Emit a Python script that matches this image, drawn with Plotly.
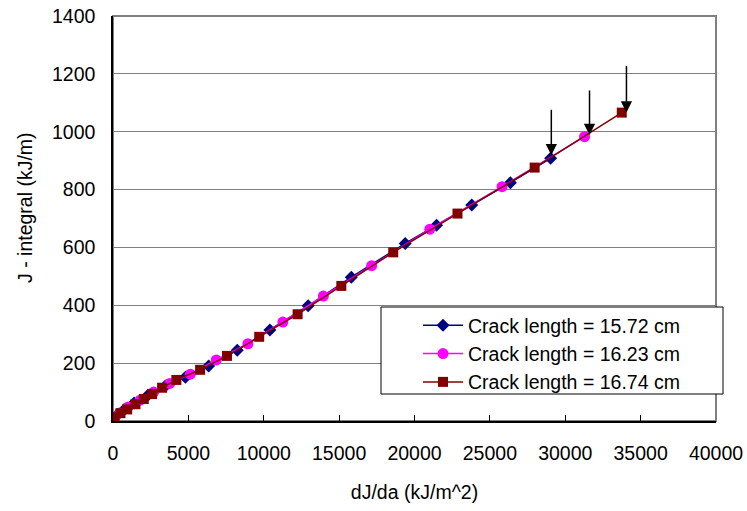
import plotly.graph_objects as go

# ---- data ----
x_1572 = [60, 300, 750, 1400, 2300, 3476, 4800, 6342, 8242, 10407, 12942, 15809,
          19383, 21462, 23799, 26361, 29029]
y_1572 = [8, 22, 40, 62, 88, 121, 151, 190, 245, 315, 398, 497,
          614, 677, 747, 824, 908]

x_1623 = [100, 450, 1000, 1800, 2700, 3760, 5131, 6852, 8950, 11267, 13955, 17159,
          21019, 25805, 31280]
y_1623 = [10, 28, 48, 72, 100, 130, 162, 211, 267, 342, 432, 537,
          663, 810, 983]

x_1674 = [99, 497, 940, 1490, 2039, 2595, 3257, 4204, 5779, 7560, 9698, 12247,
          15147, 18589, 22852, 27970, 33749]
y_1674 = [13, 27, 40, 58, 76, 93, 115, 142, 177, 225, 291, 369,
          467, 583, 717, 876, 1066]

series_names = ["Crack length = 15.72 cm", "Crack length = 16.23 cm", "Crack length = 16.74 cm"]

# arrow tips pointing at the last point of each series
arrow_x = [29075, 31610, 34060]
arrow_y = [919, 989, 1066]

x_ticks = [0, 5000, 10000, 15000, 20000, 25000, 30000, 35000, 40000]
y_ticks = [0, 200, 400, 600, 800, 1000, 1200, 1400]

FONT = "Arial, Liberation Sans, sans-serif"
FS = 19.5

fig = go.Figure()
fig.add_trace(go.Scatter(x=x_1572, y=y_1572, mode="lines+markers", name=series_names[0],
                         line=dict(color="#000080", width=1.5),
                         marker=dict(symbol="diamond", size=10, color="#000080")))
fig.add_trace(go.Scatter(x=x_1623, y=y_1623, mode="lines+markers", name=series_names[1],
                         line=dict(color="#FF00FF", width=1.5),
                         marker=dict(symbol="circle", size=11, color="#FF00FF")))
fig.add_trace(go.Scatter(x=x_1674, y=y_1674, mode="lines+markers", name=series_names[2],
                         line=dict(color="#800000", width=1.5),
                         marker=dict(symbol="square", size=10, color="#800000")))

for ax_, ay_, L in zip(arrow_x, arrow_y, [47, 46, 48]):
    fig.add_annotation(x=ax_, y=ay_, xref="x", yref="y", text="", showarrow=True,
                       ax=0, ay=-L, arrowhead=2, arrowsize=1.5, arrowwidth=1.5,
                       arrowcolor="black", standoff=0)

# plot area in window pixels: x 113..716, y 16..421 (body margin removed below)
W, H = 747, 511
PL, PR, PT, PB = 113, 716, 16, 421
L_, T_, R_, B_ = PL, PT, W - PR, H - PB
pw, ph = PR - PL, PB - PT

def px2paper(px, py):
    return (px - PL) / pw, (PB - py) / ph

# plot frame (gray top/right)
fig.add_shape(type="rect", xref="paper", yref="paper", x0=0, y0=0, x1=1, y1=1,
              line=dict(color="#808080", width=2), layer="below")

# legend box
bx0, by0 = px2paper(381, 394)
bx1, by1 = px2paper(723, 307)
fig.add_shape(type="rect", xref="paper", yref="paper", x0=bx0, y0=by0, x1=bx1, y1=by1,
              line=dict(color="black", width=1), fillcolor="white", layer="above")

lx, ly = px2paper(418, 306)

# y-axis title as rotated annotation
tx, ty = px2paper(25, 208)
fig.add_annotation(x=tx, y=ty, xref="paper", yref="paper", text="J - integral (kJ/m)",
                   textangle=-90, showarrow=False, xanchor="center", yanchor="middle",
                   font=dict(family=FONT, size=FS, color="black"))

fig.update_layout(
    width=W, height=H,
    margin=dict(l=L_, r=R_, t=T_, b=B_, autoexpand=False),
    paper_bgcolor="white", plot_bgcolor="white",
    font=dict(family=FONT, size=FS, color="black"),
    showlegend=True,
    legend=dict(x=lx, y=ly, xanchor="left", yanchor="top",
                bgcolor="rgba(0,0,0,0)", borderwidth=0,
                font=dict(family=FONT, size=FS, color="black"),
                tracegroupgap=0, itemsizing="trace", itemwidth=40),
    xaxis=dict(range=[0, 40000], tickvals=x_ticks, ticktext=[str(v) for v in x_ticks],
               showgrid=False, zeroline=False, showline=True, linecolor="black", linewidth=1.5,
               ticks="inside", ticklen=6, tickcolor="black", tickwidth=1,
               ticklabelstandoff=14, automargin=False, ticklabeloverflow="allow",
               title=dict(text="dJ/da (kJ/m^2)", font=dict(family=FONT, size=FS), standoff=22)),
    yaxis=dict(range=[0, 1400], tickvals=y_ticks, ticktext=[str(v) for v in y_ticks],
               showgrid=True, gridcolor="#808080", gridwidth=1,
               zeroline=False, showline=True, linecolor="black", linewidth=1.5,
               ticks="", ticklabelstandoff=12, automargin=False, ticklabeloverflow="allow"),
)

fig.write_html("out.html",
               config={"displayModeBar": False},
               post_script="document.body.style.margin='0';document.body.style.overflow='hidden';")
